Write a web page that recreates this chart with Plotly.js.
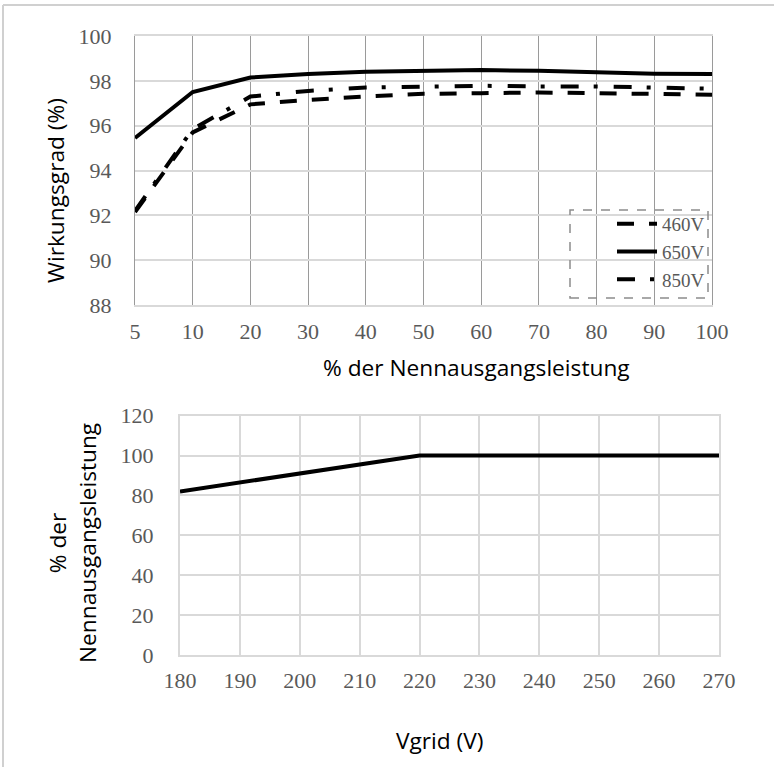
<!DOCTYPE html>
<html>
<head>
<meta charset="utf-8">
<script src="https://cdn.plot.ly/plotly-3.0.1.min.js"></script>
<style>
  html, body { margin: 0; padding: 0; background: #fff; }
  #chart { width: 774px; height: 767px; }
</style>
</head>
<body>
<div id="chart"></div>
<script>
// ---- Data ----
const loadPct = ['5', '10', '20', '30', '40', '50', '60', '70', '80', '90', '100'];
const eff460 = [92.15, 95.7, 96.95, 97.15, 97.3, 97.42, 97.45, 97.48, 97.45, 97.42, 97.38];
const eff650 = [95.45, 97.5, 98.15, 98.3, 98.4, 98.43, 98.48, 98.45, 98.38, 98.32, 98.3];
const eff850 = [92.2, 95.85, 97.3, 97.55, 97.7, 97.72, 97.78, 97.75, 97.75, 97.7, 97.65];
const seriesNames = ['460V', '650V', '850V'];

const vgrid = [180, 190, 200, 210, 220, 230, 240, 250, 260, 270];
const powerPct = [82, 86.4, 90.8, 95.3, 100, 100, 100, 100, 100, 100];

const yTickEff = [88, 90, 92, 94, 96, 98, 100];
const yTickPow = [0, 20, 40, 60, 80, 100, 120];
const xTickGrid = [180, 190, 200, 210, 220, 230, 240, 250, 260, 270];

// ---- Layout helpers (pixel -> paper) ----
const W = 774, H = 767;
const px = v => v / W;
const py = v => 1 - v / H;

const tickFont = { family: 'Liberation Serif, serif', size: 22, color: '#595959' };
const titleFont = { family: 'Open Sans, sans-serif', size: 22.7, color: '#000000' };

const traces = [
  { x: loadPct, y: eff460, name: seriesNames[0], type: 'scatter', mode: 'lines',
    line: { color: '#000', width: 4, dash: '17px,15px' }, xaxis: 'x', yaxis: 'y' },
  { x: loadPct, y: eff650, name: seriesNames[1], type: 'scatter', mode: 'lines',
    line: { color: '#000', width: 4 }, xaxis: 'x', yaxis: 'y' },
  { x: loadPct, y: eff850, name: seriesNames[2], type: 'scatter', mode: 'lines',
    line: { color: '#000', width: 4, dash: '18px,15px,4px,16px' }, xaxis: 'x', yaxis: 'y' },
  { x: vgrid, y: powerPct, name: 'Leistung', type: 'scatter', mode: 'lines',
    line: { color: '#000', width: 4 }, xaxis: 'x2', yaxis: 'y2', showlegend: false }
];

const layout = {
  width: W, height: H,
  margin: { l: 0, r: 0, t: 0, b: 0 },
  paper_bgcolor: '#fff', plot_bgcolor: '#fff',
  showlegend: true,
  legend: {
    x: px(612), y: py(205), xanchor: 'left', yanchor: 'top',
    font: { family: 'Liberation Serif, serif', size: 19, color: '#595959' },
    bgcolor: 'rgba(255,255,255,0)', borderwidth: 0,
    itemwidth: 40, tracegroupgap: 0
  },
  xaxis: {
    domain: [px(135), px(712)], anchor: 'y', type: 'category',
    range: [0, 10], tickvals: loadPct, ticktext: loadPct,
    showgrid: true, gridcolor: '#9a9a9a', gridwidth: 1,
    showline: true, linecolor: '#d9d9d9', linewidth: 2, mirror: true,
    ticks: '', ticklabelstandoff: 6, tickfont: tickFont,
    zeroline: false, automargin: false, fixedrange: true
  },
  yaxis: {
    domain: [py(305), py(36)], anchor: 'x', range: [88, 100],
    tickvals: yTickEff, showgrid: true, gridcolor: '#d9d9d9', gridwidth: 2,
    showline: true, linecolor: '#9a9a9a', linewidth: 1, mirror: true,
    ticks: '', ticklabelstandoff: 18, tickfont: tickFont,
    zeroline: false, automargin: false, fixedrange: true
  },
  xaxis2: {
    domain: [px(180), px(719)], anchor: 'y2', range: [180, 270],
    tickvals: xTickGrid, showgrid: true, gridcolor: '#d9d9d9', gridwidth: 2,
    showline: true, linecolor: '#d9d9d9', linewidth: 2, mirror: true,
    ticks: '', ticklabelstandoff: 5, tickfont: tickFont,
    zeroline: false, automargin: false, fixedrange: true
  },
  yaxis2: {
    domain: [py(655), py(415.7)], anchor: 'x2', range: [0, 120],
    tickvals: yTickPow, showgrid: true, gridcolor: '#d9d9d9', gridwidth: 2,
    showline: true, linecolor: '#d9d9d9', linewidth: 2, mirror: true,
    ticks: '', ticklabelstandoff: 20, tickfont: tickFont,
    zeroline: false, automargin: false, fixedrange: true
  },
  annotations: [
    { text: 'Wirkungsgrad (%)', xref: 'paper', yref: 'paper', x: px(55), y: py(191),
      xanchor: 'center', yanchor: 'middle', textangle: -90, showarrow: false, font: titleFont },
    { text: '% der Nennausgangsleistung', xref: 'paper', yref: 'paper', x: px(476.5), y: py(368),
      xanchor: 'center', yanchor: 'middle', showarrow: false, font: titleFont },
    { text: '% der<br>Nennausgangsleistung', xref: 'paper', yref: 'paper', x: px(72), y: py(543),
      xanchor: 'center', yanchor: 'middle', textangle: -90, showarrow: false, font: titleFont },
    { text: 'Vgrid (V)', xref: 'paper', yref: 'paper', x: px(440), y: py(740),
      xanchor: 'center', yanchor: 'middle', showarrow: false, font: titleFont }
  ],
  shapes: [
    // outer chart-area border (left and top edges visible in reference)
    { type: 'line', xref: 'paper', yref: 'paper', x0: px(3), x1: 1, y0: py(5), y1: py(5),
      line: { color: '#d0d0d0', width: 2 } },
    { type: 'line', xref: 'paper', yref: 'paper', x0: px(3), x1: px(3), y0: 0, y1: py(5),
      line: { color: '#d0d0d0', width: 2 } },
    // dashed legend frame
    { type: 'rect', xref: 'paper', yref: 'paper', x0: px(570), x1: px(708), y0: py(298), y1: py(210),
      line: { color: '#8c8c8c', width: 1.5, dash: 'dash' }, fillcolor: 'rgba(0,0,0,0)' }
  ]
};

Plotly.newPlot('chart', traces, layout, { staticPlot: true, displayModeBar: false });
</script>
</body>
</html>
